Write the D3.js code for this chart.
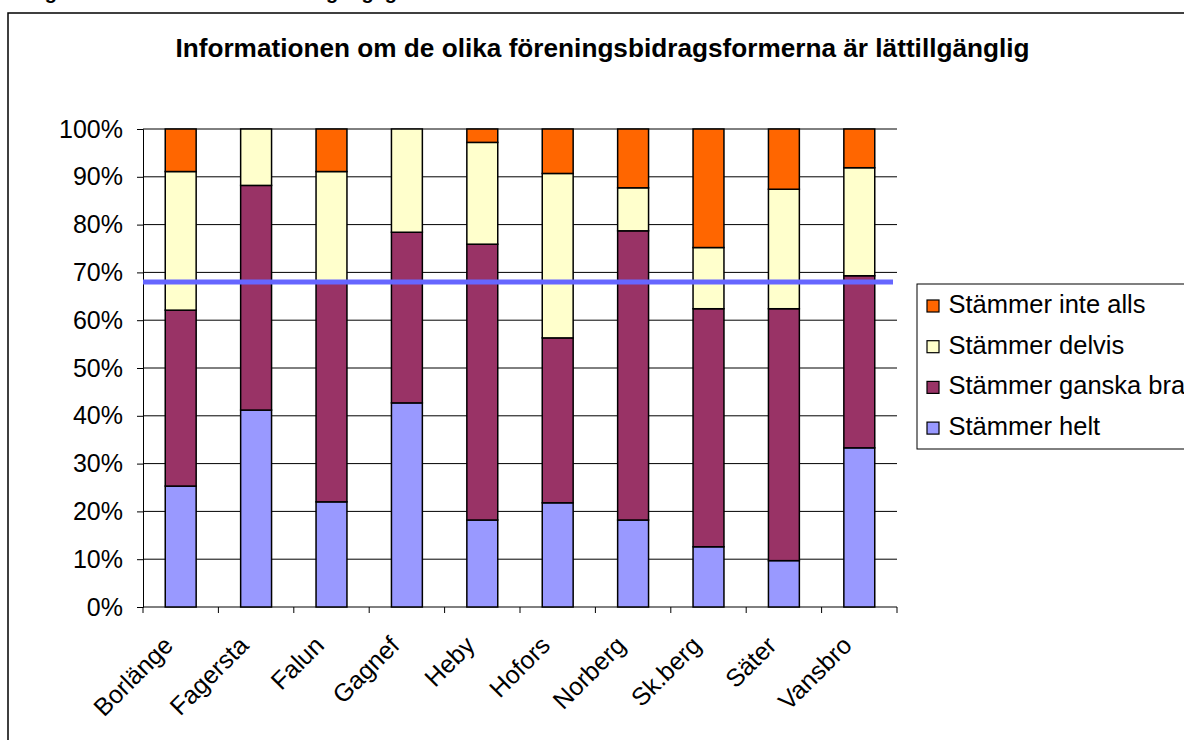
<!DOCTYPE html>
<html><head><meta charset="utf-8">
<script src="https://cdn.jsdelivr.net/npm/d3@7/dist/d3.min.js"></script>
<style>body{margin:0;background:#fff}svg{display:block;font-family:"Liberation Sans",Arial,sans-serif}</style>
</head><body><svg id="c" width="1184" height="740"></svg>
<script>
const categories = ["Borlänge","Fagersta","Falun","Gagnef","Heby","Hofors","Norberg","Sk.berg","Säter","Vansbro"];
const seriesNames = ["Stämmer helt","Stämmer ganska bra","Stämmer delvis","Stämmer inte alls"];
const helt   = [25.3, 41.2, 22.0, 42.7, 18.2, 21.8, 18.2, 12.6,  9.7, 33.3];
const ganska = [36.8, 47.0, 46.0, 35.7, 57.7, 34.5, 60.5, 49.8, 52.7, 36.0];
const delvis = [29.0, 11.8, 23.1, 21.6, 21.3, 34.4,  9.0, 12.8, 25.0, 22.6];
const inte   = [ 8.9,  0.0,  8.9,  0.0,  2.8,  9.3, 12.3, 24.8, 12.6,  8.1];
const yTicks = [0,10,20,30,40,50,60,70,80,90,100];
const referenceLine = 68;
const colors = ["#9999FF","#993366","#FFFFCC","#FF6600"];

const svg = d3.select("#c");
const M = {l:143, r:897, t:129, b:607};
const FS = 25;

// caption line of the page, cut off at the top edge
svg.append("text").attr("x",27).attr("y",-1).attr("font-weight","bold").attr("font-size",20)
  .text("Figur 14. Informationen är lättillgänglig");

// chart frame
svg.append("rect").attr("x",8).attr("y",13).attr("width",1300).attr("height",900)
  .attr("fill","none").attr("stroke","#000").attr("stroke-width",1.5);

svg.append("text").attr("x",602.5).attr("y",57).attr("text-anchor","middle")
  .attr("font-weight","bold").attr("font-size",26.2)
  .text("Informationen om de olika föreningsbidragsformerna är lättillgänglig");

const x = d3.scaleBand().domain(categories).range([M.l,M.r]).paddingInner(0.59).paddingOuter(0.295);
const y = d3.scaleLinear().domain([0,100]).range([M.b,M.t]);

// gridlines
svg.append("g").selectAll("line").data(yTicks.slice(1)).join("line")
  .attr("x1",M.l).attr("x2",M.r).attr("y1",d=>y(d)).attr("y2",d=>y(d))
  .attr("stroke","#000").attr("stroke-width",1);

// y axis
const ya = svg.append("g").attr("transform",`translate(${M.l},0)`)
  .call(d3.axisLeft(y).tickValues(yTicks).tickFormat(d=>d+"%").tickSize(6).tickPadding(14));
ya.select(".domain").attr("stroke","#000");
ya.selectAll(".tick line").attr("stroke","#000");
ya.selectAll("text").attr("font-size",FS).attr("fill","#000").attr("font-family","Liberation Sans, Arial, sans-serif");

// x axis
const step = (M.r-M.l)/categories.length;
const xa = svg.append("g");
xa.append("line").attr("x1",M.l).attr("x2",M.r).attr("y1",M.b).attr("y2",M.b).attr("stroke","#000");
xa.selectAll("line.t").data(d3.range(categories.length+1)).join("line").attr("class","t")
  .attr("x1",i=>M.l+i*step).attr("x2",i=>M.l+i*step).attr("y1",M.b).attr("y2",M.b+6).attr("stroke","#000");
xa.selectAll("text").data(categories).join("text")
  .attr("transform",d=>`translate(${x(d)+x.bandwidth()/2-6},${M.b+40}) rotate(-45)`)
  .attr("text-anchor","end").attr("font-size",FS).text(d=>d);

// stacked bars
const rows = categories.map((c,i)=>({cat:c, "Stämmer helt":helt[i], "Stämmer ganska bra":ganska[i], "Stämmer delvis":delvis[i], "Stämmer inte alls":inte[i]}));
const stack = d3.stack().keys(seriesNames)(rows);
stack.forEach((s,si)=>{
  svg.append("g").selectAll("rect").data(s.filter(d=>d[1]-d[0]>0)).join("rect")
    .attr("x",d=>x(d.data.cat)).attr("width",x.bandwidth())
    .attr("y",d=>y(d[1])).attr("height",d=>y(d[0])-y(d[1]))
    .attr("fill",colors[si]).attr("stroke","#000").attr("stroke-width",1.5);
});

// reference line
svg.append("line").attr("x1",M.l).attr("x2",M.r-4).attr("y1",y(referenceLine)).attr("y2",y(referenceLine))
  .attr("stroke","#6666FF").attr("stroke-width",5);

// legend
const lg = svg.append("g");
lg.append("rect").attr("x",917).attr("y",284).attr("width",400).attr("height",165)
  .attr("fill","#fff").attr("stroke","#000").attr("stroke-width",1);
const legendOrder = [3,2,1,0];
legendOrder.forEach((si,k)=>{
  const base = 313 + k*40.7;
  lg.append("rect").attr("x",927).attr("y",base-13).attr("width",12).attr("height",12)
    .attr("fill",colors[si]).attr("stroke","#000").attr("stroke-width",1.2);
  lg.append("text").attr("x",948.5).attr("y",base).attr("font-size",25.5).text(seriesNames[si]);
});
</script></body></html>
